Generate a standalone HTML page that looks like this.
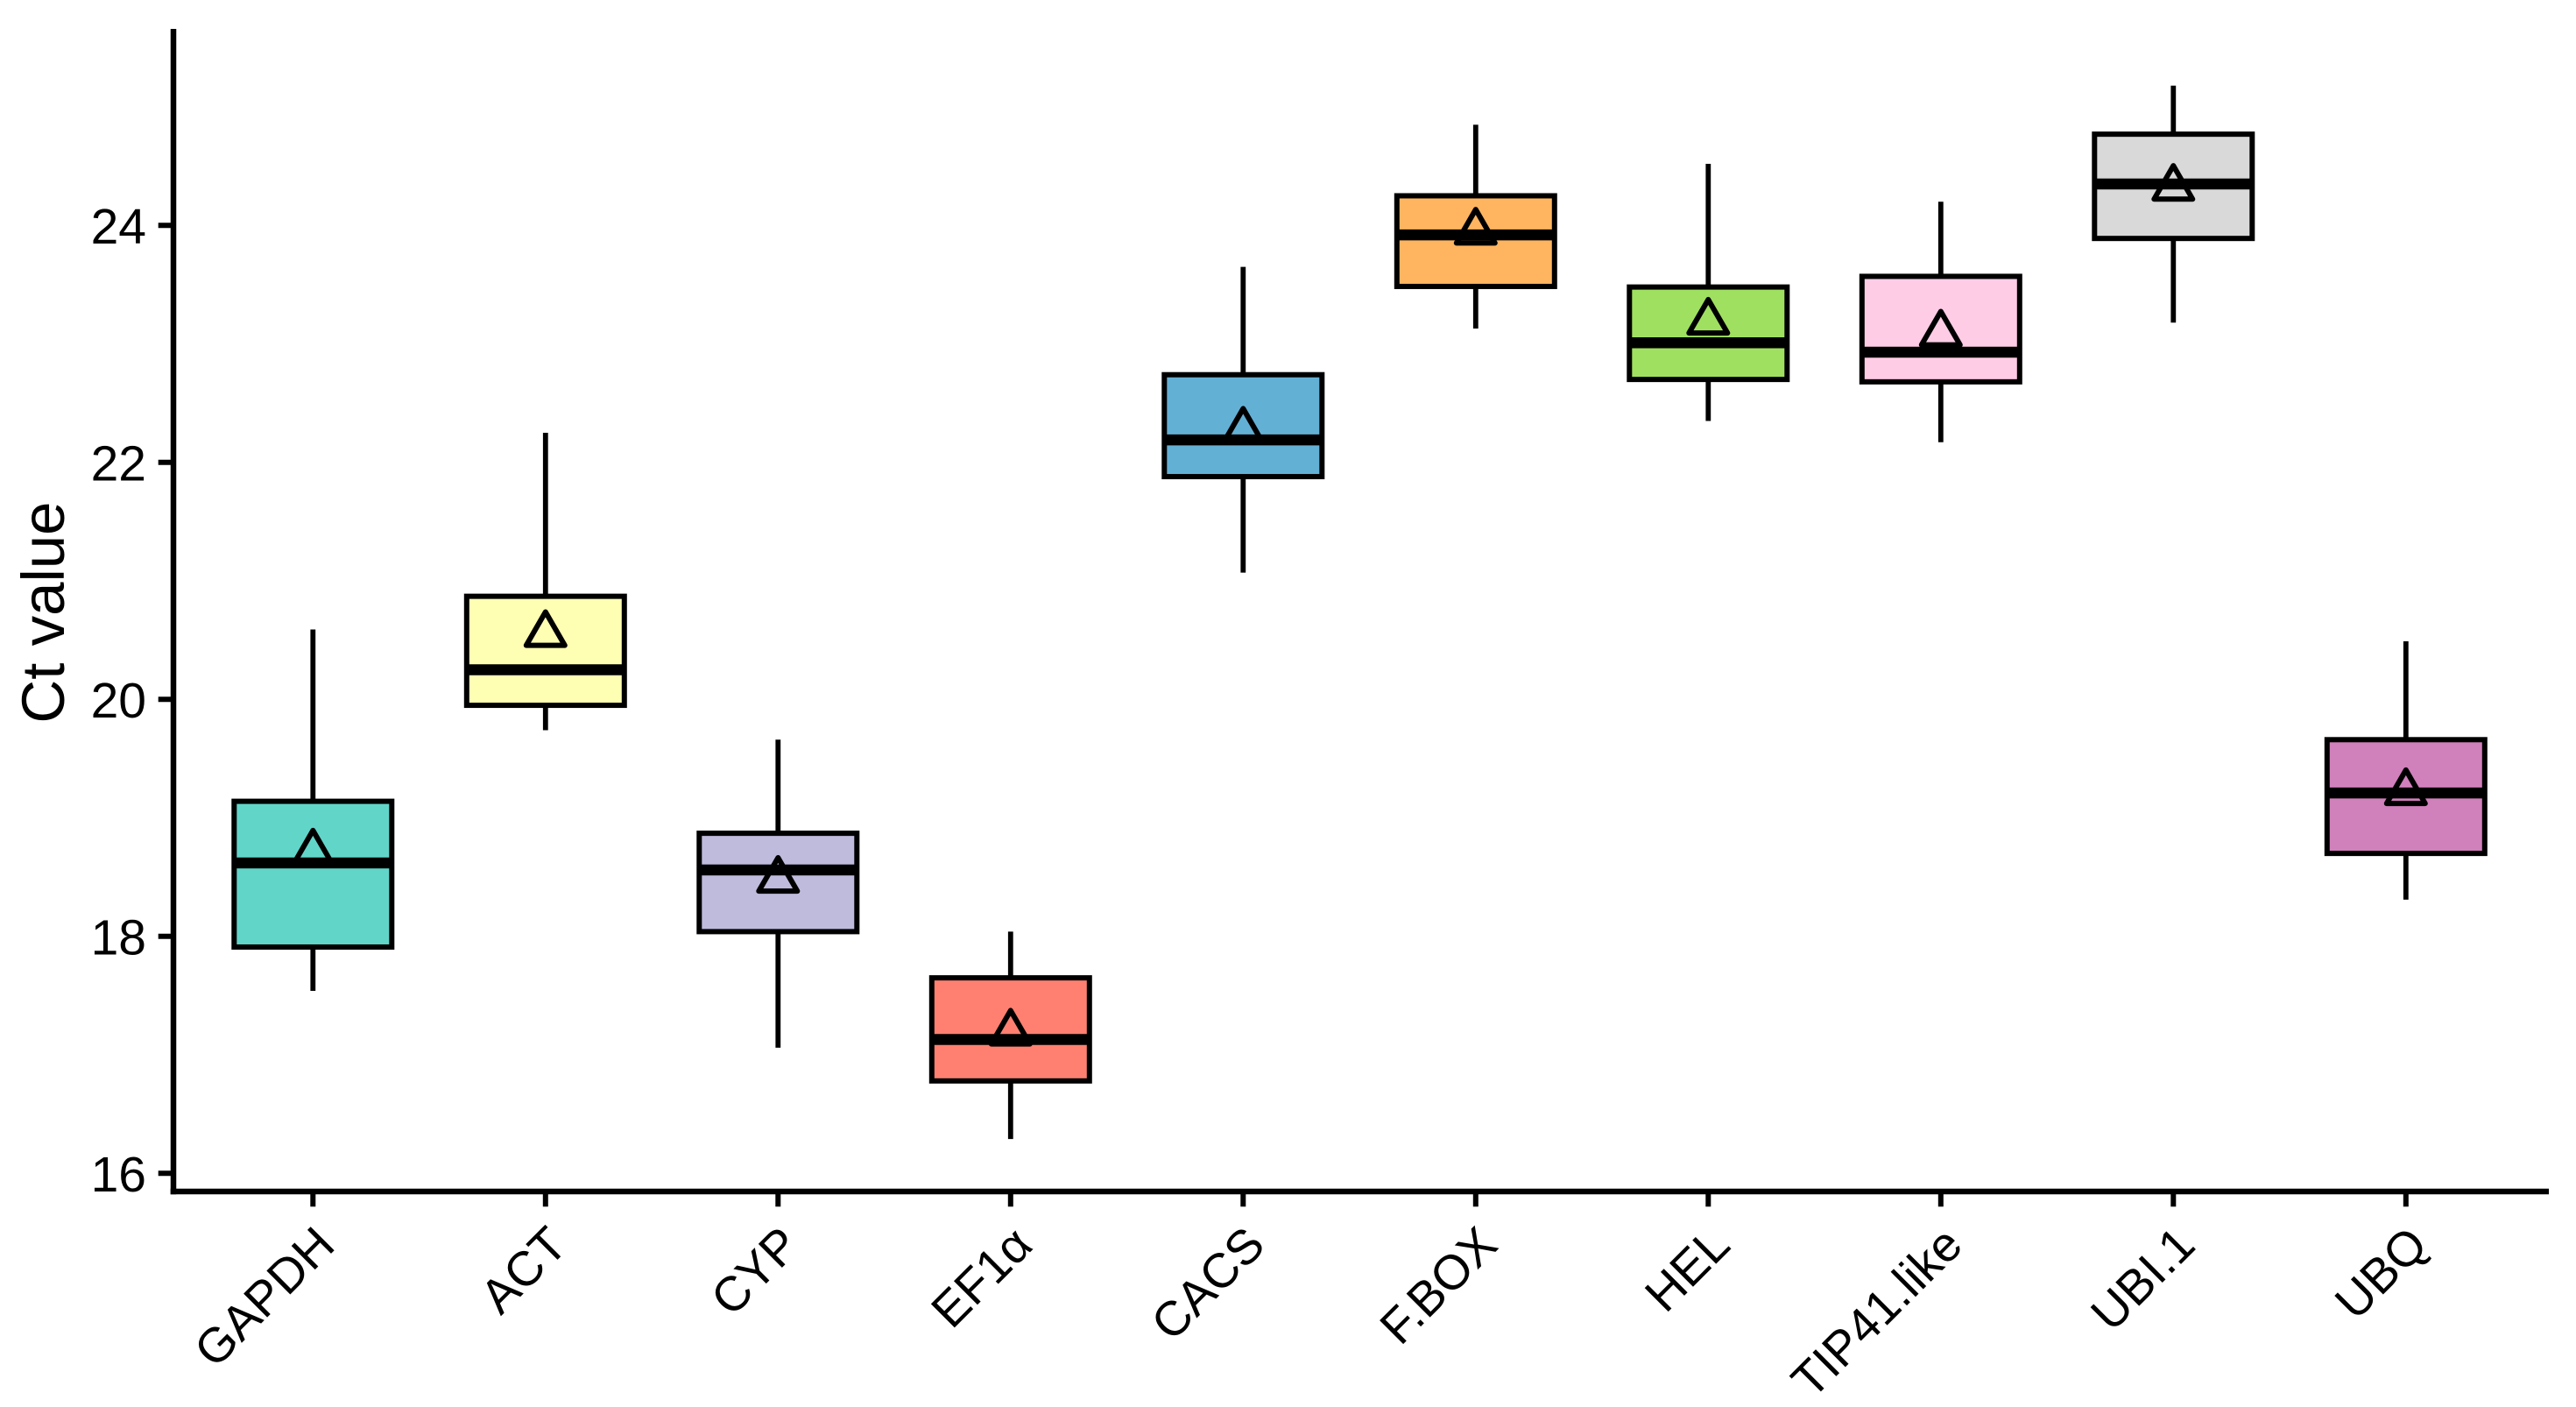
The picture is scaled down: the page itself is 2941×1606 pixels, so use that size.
<!DOCTYPE html>
<html lang="en">
<head>
<meta charset="utf-8">
<title>Ct value box plot</title>
<style>
html,body{margin:0;padding:0;background:#fff;}
svg{display:block;}
text{font-family:"Liberation Sans",Arial,"DejaVu Sans",sans-serif;fill:#000;}
</style>
</head>
<body>
<svg id="chart" xmlns="http://www.w3.org/2000/svg" width="2941" height="1606" viewBox="0 0 2941 1606">
  <rect x="0" y="0" width="2941" height="1606" fill="#ffffff"/>
  <text id="yTitle" font-size="69" text-anchor="middle" transform="translate(73 699) rotate(-90)">Ct value</text>
</svg>
<script>
const categories = ["GAPDH","ACT","CYP","EF1α","CACS","F.BOX","HEL","TIP41.like","UBI.1","UBQ"];
const whiskerHigh = [20.59,22.25,19.66,18.04,23.65,24.85,24.52,24.20,25.18,20.49];
const q3Values    = [19.14,20.87,18.87,17.65,22.74,24.25,23.48,23.57,24.77,19.66];
const medians     = [18.62,20.25,18.56,17.13,22.19,23.92,23.01,22.93,24.35,19.21];
const q1Values    = [17.91,19.95,18.04,16.78,21.88,23.485,22.70,22.68,23.89,18.70];
const whiskerLow  = [17.54,19.74,17.06,16.29,21.07,23.13,22.35,22.17,23.18,18.31];
const means       = [18.75,20.594,18.52,17.23,22.31,23.99,23.23,23.13,24.36,19.26];
const boxColors   = ["#62D5C9","#FFFFB3","#BFBBDC","#FF8070","#63B0D5","#FFB560","#A0E060","#FFCCE6","#D9D9D9","#D080BB"];
const yTicks      = [16,18,20,22,24];

const svg = document.getElementById('chart');
const NS = 'http://www.w3.org/2000/svg';
const xScale = i => 357.3 + i * 265.5;
const yScale = v => 1339.3 - (v - 16) * 135.25;

function mk(tag, attrs, parent, text) {
  const el = document.createElementNS(NS, tag);
  for (const k in attrs) el.setAttribute(k, attrs[k]);
  if (text !== undefined) el.textContent = text;
  (parent || svg).appendChild(el);
  return el;
}
const slug = s => s.toLowerCase().replace(/[^a-z0-9]+/g, '-');

categories.forEach((cat, i) => {
  const x = xScale(i);
  const g = mk('g', {});
  
  

  const upper = mk('line', {x1:x, x2:x, y1:yScale(whiskerHigh[i]), y2:yScale(q3Values[i]), stroke:'#000', 'stroke-width':5.8}, g);
  
  

  const lower = mk('line', {x1:x, x2:x, y1:yScale(q1Values[i]), y2:yScale(whiskerLow[i]), stroke:'#000', 'stroke-width':5.8}, g);
  
  

  const box = mk('rect', {x:x-90, y:yScale(q3Values[i]), width:180, height:yScale(q1Values[i])-yScale(q3Values[i]), fill:boxColors[i], stroke:'#000', 'stroke-width':6}, g);
  
  

  const med = mk('line', {x1:x-90, x2:x+90, y1:yScale(medians[i]), y2:yScale(medians[i]), stroke:'#000', 'stroke-width':12.5}, g);
  
  

  const my = yScale(means[i]);
  const tri = mk('path', {d:`M${x} ${my-19.5}L${x+22} ${my+18.7}L${x-22} ${my+18.7}Z`, fill:'none', stroke:'#000', 'stroke-width':6, 'stroke-linejoin':'round'}, g);
  
  

  const tick = mk('line', {x1:x, x2:x, y1:1360, y2:1377.3, stroke:'#000', 'stroke-width':6});
  
  

  const lab = mk('text', {'font-size':55.5, 'text-anchor':'end', transform:`translate(${x+27.5} 1424) rotate(-45)`}, svg, cat);
  
  
});

yTicks.forEach(v => {
  const y = yScale(v);
  const t = mk('line', {x1:180.7, x2:198, y1:y, y2:y, stroke:'#000', 'stroke-width':6});
  
  
  const l = mk('text', {x:167, y:y+20.5, 'font-size':57, 'text-anchor':'end'}, svg, String(v));
  
  
});

const yAxis = mk('line', {x1:198, x2:198, y1:33, y2:1363.2, stroke:'#000', 'stroke-width':6.5});



const xAxis = mk('line', {x1:194.7, x2:2910, y1:1360, y2:1360, stroke:'#000', 'stroke-width':6.4});


</script>
</body>
</html>
